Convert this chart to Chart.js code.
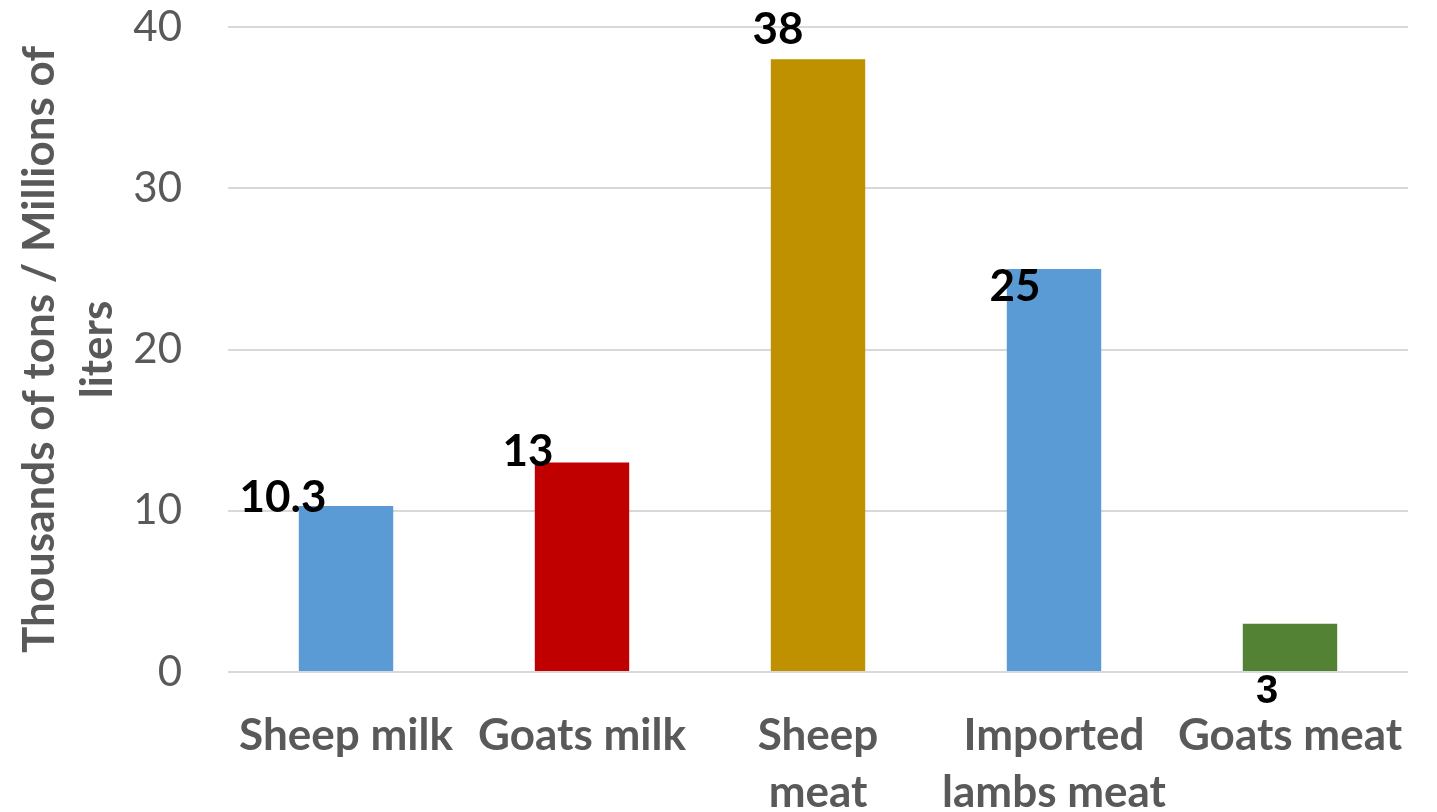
<!DOCTYPE html>
<html lang="en">
<head>
    <meta charset="UTF-8">
    <title>Sheep and goats production</title>
    <script src="https://cdn.jsdelivr.net/npm/chart.js@4.4.0/dist/chart.umd.min.js"></script>
    <style>
        body { margin: 0; background: #fff; }
    </style>
</head>
<body>
    <canvas id="chart" width="1437" height="812"></canvas>

    <script>
        const labels = ['Sheep milk', 'Goats milk', ['Sheep', 'meat'], ['Imported', 'lambs meat'], 'Goats meat'];
        const values = [10.3, 13, 38, 25, 3];
        const barColors = ['#5B9BD5', '#C00000', '#BF9000', '#5B9BD5', '#548235'];
        const yTitle = ['Thousands of tons / Millions of', 'liters'];

        // where each value label sits relative to the top of its bar (as in the original)
        const labelShift = [[-63, -8], [-54, -11], [-40, -29], [-39, 18], [-23, 68]];

        const valueLabels = {
            id: 'valueLabels',
            afterDatasetsDraw(chart) {
                const ctx = chart.ctx;
                const meta = chart.getDatasetMeta(0);
                ctx.save();
                ctx.fillStyle = '#000';
                ctx.textAlign = 'center';
                ctx.textBaseline = 'middle';
                meta.data.forEach((bar, i) => {
                    ctx.font = i === 4 ? 'bold 40px "Liberation Sans"' : 'bold 44px Lato';
                    ctx.fillText(String(values[i]), bar.x + labelShift[i][0], bar.y + labelShift[i][1]);
                });
                ctx.restore();
            }
        };

        const ctx = document.getElementById('chart').getContext('2d');
        const myChart = new Chart(ctx, {
            type: 'bar',
            data: {
                labels: labels,
                datasets: [{
                    data: values,
                    backgroundColor: barColors,
                    borderWidth: 0,
                    categoryPercentage: 1,
                    barPercentage: 0.4
                }]
            },
            plugins: [valueLabels],
            options: {
                responsive: false,
                animation: false,
                layout: { padding: { top: 27, right: 29, left: 0, bottom: 0 } },
                plugins: {
                    legend: { display: false },
                    tooltip: { enabled: false }
                },
                scales: {
                    x: {
                        grid: { drawOnChartArea: false, drawTicks: true, tickLength: 35, tickColor: 'transparent' },
                        border: { display: false },
                        ticks: {
                            color: '#595959',
                            font: { family: 'Lato', size: 44, weight: 'bold', lineHeight: 1.3 },
                            padding: 0,
                            maxRotation: 0,
                            autoSkip: false
                        },
                        afterFit(axis) { axis.height = 140; }
                    },
                    y: {
                        min: 0,
                        max: 40,
                        ticks: {
                            stepSize: 10,
                            color: '#595959',
                            font: { family: 'Lato', size: 42 },
                            padding: 0
                        },
                        grid: { color: '#D9D9D9', lineWidth: 2, drawTicks: true, tickLength: 46, tickColor: 'transparent' },
                        border: { display: false },
                        title: {
                            display: true,
                            text: yTitle,
                            color: '#595959',
                            font: { family: 'Lato', size: 44, weight: 'bold', lineHeight: 1.32 },
                            padding: { top: 11, bottom: 0 }
                        },
                        afterFit(axis) { axis.width = 228; }
                    }
                }
            }
        });
    </script>
</body>
</html>
